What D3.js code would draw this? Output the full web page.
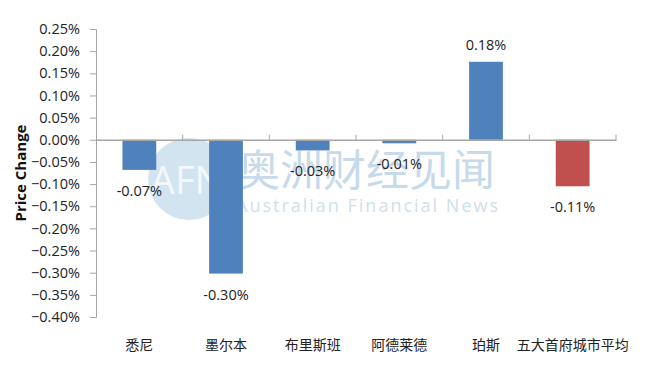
<!DOCTYPE html>
<html>
<head>
  <meta charset="utf-8"/>
  <title>Price Change</title>
  <style type="text/css">
    body {
      padding:0;
      margin:0;
      background-color:white;
    }
    text {
      font-family: "Open Sans", "Noto Sans CJK SC", sans-serif;
    }
  </style>
  <script src="https://cdn.jsdelivr.net/npm/d3@7"></script>
</head>
<body>
<script type="text/javascript">

  var w = 648, h = 366;

  // DATA
  var cities = ["悉尼", "墨尔本", "布里斯班", "阿德莱德", "珀斯", "五大首府城市平均"];
  var changes = [-0.068, -0.302, -0.024, -0.008, 0.176, -0.105];
  var valueLabels = ["-0.07%", "-0.30%", "-0.03%", "-0.01%", "0.18%", "-0.11%"];
  var yTicks = [0.25, 0.20, 0.15, 0.10, 0.05, 0, -0.05, -0.10, -0.15, -0.20, -0.25, -0.30, -0.35, -0.40];

  // COLORS
  var barBlue = "#4f81bd",
      barRed = "#c0504d",
      axisGray = "#a6a6a6",
      markBlue = "#c6daeb";

  var svg = d3.select("body").append("svg")
              .attr("width", w)
              .attr("height", h);

  var x = d3.scaleBand()
            .domain(cities)
            .range([96, 616])
            .paddingInner(0.61)
            .paddingOuter(0.305);

  var y = d3.scaleLinear()
            .domain([-0.40, 0.25])
            .range([317, 29]);

  // watermark
  var mark = svg.append("g").attr("id", "watermark");
  mark.append("circle")
      .attr("cx", 189).attr("cy", 179).attr("r", 41)
      .style("fill", "#d3e4f1");
  mark.append("text")
      .attr("x", 187).attr("y", 194)
      .attr("text-anchor", "middle")
      .style("font-size", "38px")
      .style("fill", "#f4f8fb")
      .text("AFN");
  mark.append("text")
      .attr("x", 237).attr("y", 186)
      .style("font-size", "43px")
      .style("font-family", "Noto Sans CJK SC")
      .style("fill", markBlue)
      .text("奥洲财经见闻");
  mark.append("text")
      .attr("x", 236).attr("y", 212)
      .attr("textLength", 262)
      .style("font-size", "18px")
      .style("fill", "#cfdfec")
      .text("Australian Financial News");

  // bars
  svg.append("g").selectAll("rect")
     .data(cities)
     .enter().append("rect")
     .attr("x", function(d) { return x(d); })
     .attr("width", x.bandwidth())
     .attr("y", function(d, i) { return y(Math.max(0, changes[i])); })
     .attr("height", function(d, i) { return Math.abs(y(changes[i]) - y(0)); })
     .style("fill", function(d, i) { return i == cities.length - 1 ? barRed : barBlue; });

  // y axis
  var yAxis = svg.append("g")
                 .attr("transform", "translate(96,0)")
                 .call(d3.axisLeft(y).tickValues(yTicks).tickSize(6).tickPadding(10)
                   .tickFormat(function(d) { return d3.format(".2f")(d) + "%"; }));
  yAxis.select(".domain").attr("stroke", axisGray);
  yAxis.selectAll(".tick line").attr("stroke", axisGray);
  yAxis.selectAll(".tick text")
       .style("font-size", "14.5px")
       .style("fill", "#222");

  // zero line with category ticks
  var xAxis = svg.append("g")
                 .attr("transform", "translate(0," + y(0) + ")")
                 .call(d3.axisBottom(x).tickSize(0).tickFormat(""));
  xAxis.select(".domain").attr("stroke", axisGray).attr("stroke-width", 1.5);
  var bounds = cities.map(function(d) { return x(d) - x.step() * 0.61 / 2; });
  bounds.push(616);
  xAxis.selectAll(".bound").data(bounds.slice(1)).enter().append("line")
       .attr("class", "bound")
       .attr("x1", function(d) { return d; }).attr("x2", function(d) { return d; })
       .attr("y1", -5).attr("y2", 0)
       .attr("stroke", axisGray);

  // category labels
  svg.append("g").selectAll("text")
     .data(cities)
     .enter().append("text")
     .attr("x", function(d) { return x(d) + x.bandwidth() / 2; })
     .attr("y", 350)
     .attr("text-anchor", "middle")
     .style("font-family", "Noto Sans CJK SC")
     .style("font-size", "14px")
     .style("fill", "#222")
     .text(function(d) { return d; });

  // value labels
  svg.append("g").selectAll("text")
     .data(cities)
     .enter().append("text")
     .attr("x", function(d) { return x(d) + x.bandwidth() / 2; })
     .attr("y", function(d, i) { return changes[i] < 0 ? y(changes[i]) + 26 : y(changes[i]) - 12; })
     .attr("text-anchor", "middle")
     .style("font-size", "14.5px")
     .style("fill", "#222")
     .text(function(d, i) { return valueLabels[i]; });

  // y title
  svg.append("text")
     .attr("transform", "translate(26," + y(-0.075) + ") rotate(-90)")
     .attr("text-anchor", "middle")
     .style("font-size", "15px")
     .style("font-weight", "bold")
     .style("fill", "#111")
     .text("Price Change");

</script>
</body>
</html>
